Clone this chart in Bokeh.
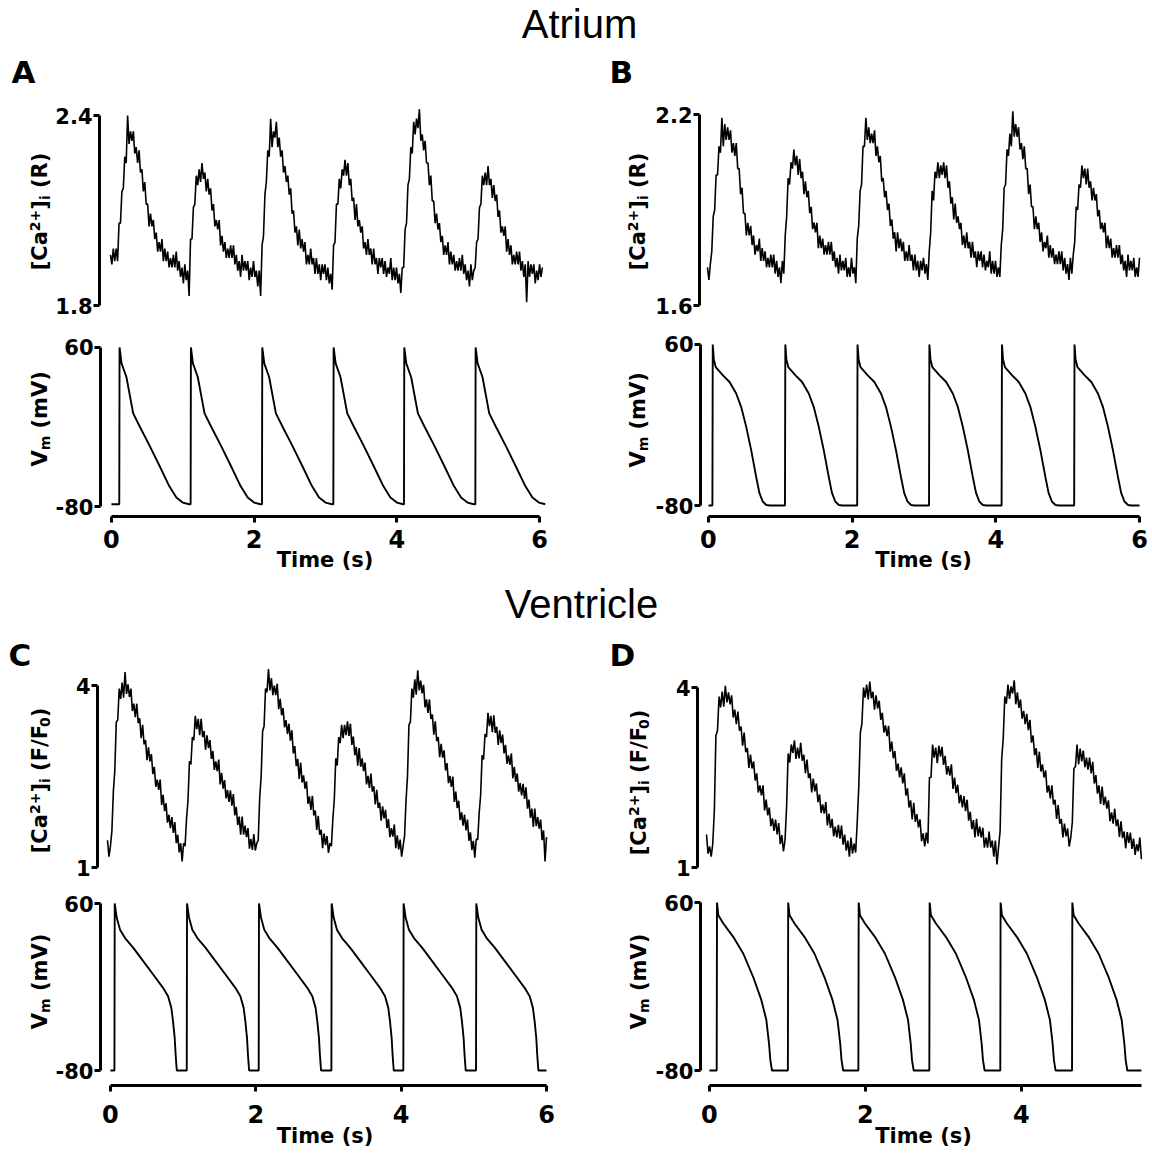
import numpy as np
from bokeh.plotting import figure
from bokeh.layouts import column, row
from bokeh.models import Range1d, FixedTicker, Label, LinearAxis
from bokeh.embed import file_html
from bokeh.resources import INLINE

# ---------------------------------------------------------------- data
CA_STEP = 0.02  # seconds between calcium samples

ca_A = [1.96, 1.93, 1.98, 1.94, 1.98, 1.94, 2.06, 2.06, 2.16, 2.17,
        2.27, 2.25, 2.40, 2.31, 2.35, 2.32, 2.35, 2.28, 2.30, 2.25,
        2.29, 2.22, 2.23, 2.16, 2.19, 2.12, 2.12, 2.05, 2.09, 2.05,
        2.07, 2.01, 2.03, 1.97, 2.00, 1.97, 2.01, 1.94, 1.98, 1.94,
        1.97, 1.92, 1.95, 1.92, 1.96, 1.92, 1.97, 1.91, 1.94, 1.89,
        1.92, 1.87, 1.93, 1.88, 1.91, 1.83, 2.01, 2.01, 2.11, 2.12,
        2.21, 2.18, 2.23, 2.19, 2.25, 2.20, 2.22, 2.16, 2.20, 2.15,
        2.17, 2.10, 2.12, 2.05, 2.07, 2.04, 2.07, 1.99, 2.02, 1.97,
        2.00, 1.95, 1.98, 1.95, 1.99, 1.95, 1.99, 1.93, 1.96, 1.91,
        1.94, 1.89, 1.96, 1.91, 1.94, 1.91, 1.94, 1.88, 1.92, 1.89,
        1.94, 1.89, 1.91, 1.86, 1.91, 1.83, 1.99, 2.02, 2.15, 2.19,
        2.29, 2.27, 2.39, 2.30, 2.35, 2.33, 2.38, 2.30, 2.33, 2.27,
        2.29, 2.22, 2.24, 2.19, 2.21, 2.15, 2.17, 2.09, 2.10, 2.03,
        2.05, 1.99, 2.04, 1.98, 2.01, 1.97, 2.00, 1.93, 1.96, 1.93,
        1.98, 1.93, 1.95, 1.90, 1.95, 1.90, 1.93, 1.88, 1.93, 1.90,
        1.93, 1.88, 1.92, 1.87, 1.90, 1.85, 1.99, 2.00, 2.12, 2.12,
        2.20, 2.17, 2.23, 2.21, 2.26, 2.21, 2.25, 2.18, 2.20, 2.13,
        2.14, 2.07, 2.12, 2.05, 2.07, 2.03, 2.05, 1.98, 2.00, 1.96,
        2.01, 1.96, 1.98, 1.93, 1.98, 1.93, 1.95, 1.90, 1.95, 1.92,
        1.95, 1.90, 1.94, 1.89, 1.92, 1.90, 1.95, 1.88, 1.92, 1.88,
        1.92, 1.87, 1.90, 1.84, 1.92, 1.92, 2.04, 2.06, 2.18, 2.20,
        2.30, 2.28, 2.38, 2.34, 2.39, 2.36, 2.42, 2.32, 2.34, 2.29,
        2.32, 2.25, 2.25, 2.18, 2.21, 2.13, 2.13, 2.06, 2.09, 2.04,
        2.06, 2.00, 2.02, 1.96, 1.99, 1.96, 2.00, 1.93, 1.97, 1.93,
        1.96, 1.91, 1.94, 1.91, 1.95, 1.91, 1.96, 1.90, 1.93, 1.88,
        1.91, 1.86, 1.93, 1.88, 1.91, 1.92, 2.00, 2.01, 2.11, 2.12,
        2.21, 2.18, 2.22, 2.18, 2.24, 2.18, 2.20, 2.14, 2.18, 2.13,
        2.15, 2.08, 2.10, 2.03, 2.05, 2.02, 2.05, 1.97, 2.01, 1.96,
        1.99, 1.93, 1.96, 1.93, 1.97, 1.93, 1.97, 1.91, 1.94, 1.89,
        1.93, 1.81, 1.94, 1.89, 1.93, 1.90, 1.93, 1.87, 1.91, 1.88,
        1.93, 1.89, 1.92]

ca_B = [1.72, 1.68, 1.73, 1.77, 1.88, 1.90, 2.01, 2.01, 2.10, 2.08,
        2.19, 2.10, 2.17, 2.12, 2.16, 2.12, 2.15, 2.08, 2.11, 2.07,
        2.11, 2.03, 2.03, 1.95, 1.97, 1.89, 1.89, 1.82, 1.86, 1.82,
        1.85, 1.79, 1.82, 1.76, 1.79, 1.77, 1.81, 1.74, 1.78, 1.74,
        1.77, 1.72, 1.75, 1.72, 1.76, 1.72, 1.76, 1.70, 1.74, 1.69,
        1.72, 1.67, 1.74, 1.70, 1.82, 1.88, 2.00, 1.98, 2.05, 2.03,
        2.09, 2.04, 2.07, 2.01, 2.06, 2.00, 2.02, 1.95, 1.99, 1.94,
        1.96, 1.89, 1.91, 1.84, 1.86, 1.83, 1.86, 1.78, 1.82, 1.78,
        1.81, 1.76, 1.79, 1.76, 1.80, 1.76, 1.80, 1.74, 1.77, 1.72,
        1.75, 1.70, 1.76, 1.71, 1.74, 1.71, 1.75, 1.69, 1.72, 1.69,
        1.75, 1.70, 1.72, 1.67, 1.81, 1.85, 1.96, 1.98, 2.10, 2.10,
        2.19, 2.12, 2.16, 2.11, 2.14, 2.11, 2.15, 2.07, 2.10, 2.05,
        2.07, 1.99, 2.00, 1.94, 1.96, 1.90, 1.92, 1.85, 1.87, 1.81,
        1.83, 1.77, 1.83, 1.78, 1.81, 1.77, 1.80, 1.74, 1.77, 1.74,
        1.79, 1.74, 1.76, 1.71, 1.76, 1.71, 1.74, 1.69, 1.74, 1.71,
        1.75, 1.70, 1.73, 1.68, 1.77, 1.83, 1.96, 1.93, 2.02, 2.00,
        2.05, 2.00, 2.04, 2.01, 2.05, 2.00, 2.04, 1.97, 1.99, 1.92,
        1.94, 1.87, 1.92, 1.86, 1.88, 1.84, 1.86, 1.79, 1.82, 1.78,
        1.83, 1.78, 1.80, 1.75, 1.80, 1.75, 1.77, 1.72, 1.77, 1.74,
        1.77, 1.72, 1.76, 1.71, 1.74, 1.72, 1.77, 1.70, 1.74, 1.70,
        1.74, 1.69, 1.72, 1.69, 1.79, 1.84, 1.97, 1.98, 2.09, 2.07,
        2.14, 2.10, 2.21, 2.13, 2.17, 2.13, 2.16, 2.09, 2.11, 2.06,
        2.10, 2.03, 2.03, 1.95, 1.98, 1.91, 1.91, 1.84, 1.88, 1.84,
        1.86, 1.80, 1.83, 1.77, 1.80, 1.78, 1.82, 1.75, 1.79, 1.75,
        1.78, 1.73, 1.76, 1.73, 1.77, 1.73, 1.77, 1.71, 1.75, 1.70,
        1.73, 1.68, 1.75, 1.70, 1.76, 1.80, 1.91, 1.90, 1.98, 1.97,
        2.04, 2.00, 2.03, 1.98, 2.03, 1.97, 1.99, 1.93, 1.97, 1.93,
        1.95, 1.88, 1.90, 1.84, 1.86, 1.83, 1.86, 1.78, 1.82, 1.78,
        1.81, 1.75, 1.78, 1.75, 1.79, 1.75, 1.79, 1.73, 1.76, 1.71,
        1.74, 1.69, 1.76, 1.71, 1.74, 1.71, 1.75, 1.69, 1.72, 1.69,
        1.75]

ca_C = [1.45, 1.18, 1.35, 1.60, 2.25, 2.60, 3.40, 3.43, 3.95, 3.78,
        4.05, 3.80, 4.22, 3.86, 4.02, 3.81, 3.95, 3.58, 3.70, 3.48,
        3.70, 3.38, 3.46, 3.13, 3.35, 3.03, 3.10, 2.77, 2.98, 2.75,
        2.87, 2.54, 2.66, 2.33, 2.45, 2.28, 2.45, 2.03, 2.20, 1.93,
        2.06, 1.74, 1.87, 1.65, 1.83, 1.57, 1.75, 1.40, 1.54, 1.25,
        1.40, 1.10, 1.40, 1.35, 1.80, 2.10, 2.75, 2.70, 3.15, 3.10,
        3.50, 3.28, 3.45, 3.18, 3.45, 3.15, 3.25, 2.94, 3.18, 2.97,
        3.10, 2.79, 2.92, 2.61, 2.75, 2.59, 2.78, 2.37, 2.56, 2.30,
        2.44, 2.14, 2.28, 2.08, 2.27, 2.02, 2.21, 1.86, 2.00, 1.70,
        1.84, 1.54, 1.84, 1.54, 1.69, 1.50, 1.65, 1.31, 1.47, 1.29,
        1.55, 1.28, 1.40, 1.45, 2.15, 2.50, 3.25, 3.33, 3.95, 3.89,
        4.27, 3.92, 4.12, 3.84, 4.00, 3.84, 4.03, 3.61, 3.78, 3.51,
        3.63, 3.31, 3.43, 3.20, 3.37, 3.09, 3.26, 2.88, 3.00, 2.67,
        2.79, 2.46, 2.73, 2.40, 2.52, 2.30, 2.42, 2.05, 2.17, 1.95,
        2.18, 1.86, 1.94, 1.62, 1.85, 1.54, 1.62, 1.32, 1.56, 1.37,
        1.52, 1.24, 1.40, 1.35, 1.80, 2.13, 2.80, 2.68, 3.15, 3.05,
        3.35, 3.13, 3.35, 3.18, 3.41, 3.17, 3.37, 3.02, 3.16, 2.85,
        2.99, 2.68, 2.97, 2.66, 2.80, 2.59, 2.73, 2.37, 2.51, 2.31,
        2.55, 2.25, 2.34, 2.04, 2.28, 1.98, 2.07, 1.77, 2.01, 1.81,
        1.95, 1.65, 1.80, 1.50, 1.65, 1.51, 1.71, 1.32, 1.53, 1.30,
        1.46, 1.18, 1.35, 1.52, 2.10, 2.50, 3.35, 3.40, 3.95, 3.80,
        4.10, 3.85, 4.25, 3.92, 4.08, 3.87, 4.01, 3.64, 3.77, 3.55,
        3.77, 3.45, 3.52, 3.19, 3.41, 3.08, 3.15, 2.82, 3.04, 2.81,
        2.93, 2.60, 2.72, 2.39, 2.51, 2.33, 2.50, 2.08, 2.25, 1.98,
        2.10, 1.78, 1.91, 1.69, 1.87, 1.61, 1.79, 1.44, 1.58, 1.29,
        1.44, 1.16, 1.47, 1.46, 1.90, 2.20, 2.85, 2.78, 3.20, 3.15,
        3.55, 3.33, 3.50, 3.23, 3.51, 3.22, 3.32, 3.02, 3.26, 3.05,
        3.19, 2.88, 3.02, 2.71, 2.85, 2.69, 2.88, 2.47, 2.66, 2.41,
        2.55, 2.25, 2.39, 2.19, 2.38, 2.13, 2.32, 1.97, 2.12, 1.82,
        1.97, 1.67, 1.97, 1.68, 1.83, 1.64, 1.79, 1.45, 1.61, 1.10,
        1.50]

ca_D = [1.55, 1.23, 1.35, 1.18, 1.40, 1.95, 3.20, 3.28, 3.85, 3.67,
        3.93, 3.68, 4.03, 3.75, 3.92, 3.72, 3.87, 3.50, 3.63, 3.39,
        3.60, 3.28, 3.35, 3.03, 3.25, 2.92, 2.99, 2.66, 2.88, 2.65,
        2.77, 2.45, 2.57, 2.25, 2.37, 2.20, 2.37, 1.95, 2.13, 1.87,
        2.00, 1.69, 1.82, 1.61, 1.80, 1.55, 1.74, 1.39, 1.54, 1.27,
        1.45, 2.00, 2.90, 2.75, 3.05, 2.91, 3.12, 2.81, 3.00, 2.82,
        3.08, 2.78, 2.88, 2.57, 2.80, 2.49, 2.57, 2.25, 2.48, 2.27,
        2.40, 2.09, 2.22, 1.91, 2.05, 1.90, 2.09, 1.70, 1.90, 1.66,
        1.81, 1.52, 1.68, 1.50, 1.71, 1.48, 1.70, 1.38, 1.55, 1.28,
        1.45, 1.18, 1.50, 1.23, 1.40, 1.25, 1.75, 2.35, 3.25, 3.40,
        4.00, 3.83, 4.05, 3.80, 4.10, 3.82, 3.93, 3.63, 3.87, 3.65,
        3.78, 3.46, 3.58, 3.25, 3.37, 3.19, 3.36, 2.93, 3.10, 2.82,
        2.94, 2.61, 2.73, 2.50, 2.67, 2.40, 2.57, 2.20, 2.32, 2.00,
        2.12, 1.80, 2.08, 1.76, 1.89, 1.67, 1.80, 1.44, 1.57, 1.35,
        1.58, 1.40, 2.50, 2.50, 3.05, 2.83, 3.00, 2.74, 3.03, 2.85,
        3.01, 2.71, 2.86, 2.55, 2.69, 2.53, 2.72, 2.31, 2.50, 2.24,
        2.38, 2.07, 2.21, 2.00, 2.19, 1.94, 2.13, 1.78, 1.93, 1.64,
        1.79, 1.50, 1.81, 1.52, 1.68, 1.50, 1.66, 1.33, 1.50, 1.33,
        1.60, 1.33, 1.45, 1.18, 1.45, 1.05, 1.33, 1.60, 2.80, 3.15,
        3.85, 3.73, 4.05, 3.81, 4.02, 3.90, 4.12, 3.72, 3.92, 3.66,
        3.80, 3.48, 3.61, 3.39, 3.56, 3.29, 3.46, 3.08, 3.20, 2.87,
        2.99, 2.66, 2.93, 2.60, 2.72, 2.50, 2.62, 2.25, 2.37, 2.15,
        2.37, 2.05, 2.13, 1.81, 2.04, 1.73, 1.81, 1.50, 1.73, 1.52,
        1.65, 1.35, 1.50, 1.75, 2.65, 2.68, 3.05, 2.72, 2.98, 2.77,
        2.95, 2.67, 2.83, 2.63, 2.83, 2.57, 2.76, 2.40, 2.54, 2.23,
        2.37, 2.06, 2.35, 2.04, 2.18, 1.98, 2.12, 1.77, 1.92, 1.73,
        1.98, 1.69, 1.80, 1.51, 1.77, 1.49, 1.60, 1.32, 1.59, 1.41,
        1.58, 1.31, 1.48, 1.21, 1.39, 1.27, 1.50, 1.14]

# membrane potential: upstroke times (s) and one action-potential shape
# (time after upstroke in s, mV)
vm_A_up = [0.11, 1.11, 2.11, 3.11, 4.10, 5.10]
vm_A_dt = [0.0, 0.004, 0.032, 0.10, 0.195, 0.29, 0.43, 0.57, 0.70, 0.80, 0.89, 0.98]
vm_A_mv = [-78, 60, 46, 34, 2, -10, -27, -45, -62, -72, -76.5, -78]
vm_A_rest, vm_A_end = -78, 6.08

vm_B_up = [0.055, 1.065, 2.07, 3.07, 4.08, 5.09]
vm_B_dt = [0.0, 0.005, 0.02, 0.046, 0.147, 0.239, 0.331, 0.40, 0.47, 0.539, 0.608, 0.654, 0.70, 0.75, 0.80]
vm_B_mv = [-80, 60, 47, 40.4, 33.2, 27.4, 17.4, 5.8, -11.4, -31.6, -54.7, -69, -76.5, -79.5, -80]
vm_B_rest, vm_B_end = -80, 6.0

vm_C_up = [0.055, 1.05, 2.04, 3.04, 4.03, 5.03]
vm_C_dt = [0.0, 0.004, 0.032, 0.077, 0.146, 0.26, 0.396, 0.533, 0.669, 0.738, 0.783, 0.806, 0.829, 0.842, 0.858]
vm_C_mv = [-80, 60, 48, 38, 31, 22.8, 11.7, 0.5, -10.7, -17.7, -27.5, -38.6, -52.6, -66.6, -80]
vm_C_rest, vm_C_end = -80, 6.0

vm_D_up = [0.093, 1.006, 1.91, 2.82, 3.73, 4.65]
vm_D_dt = [0.0, 0.004, 0.021, 0.085, 0.212, 0.34, 0.467, 0.573, 0.637, 0.671, 0.688, 0.709]
vm_D_mv = [-80, 60, 49.4, 42.5, 31.4, 17.5, -1.9, -21.4, -38, -57.5, -71.4, -80]
vm_D_rest, vm_D_end = -80, 5.54

time_ticks_ABC = [0, 2, 4, 6]
time_ticks_D = [0, 2, 4]
time_bounds = {"A": (0, 6), "B": (0, 6), "C": (0, 6), "D": (0, 5.54)}
ca_ticks = {"A": (1.8, 2.4), "B": (1.6, 2.2), "C": (1, 4), "D": (1, 4)}
vm_ticks = (-80, 60)


def build_vm(up, dt, mv, rest, end):
    xs, ys = [0.0], [rest]
    for u in up:
        for d, v in zip(dt, mv):
            xs.append(u + d)
            ys.append(v)
    if xs[-1] < end:
        xs.append(end)
        ys.append(rest)
    return xs, ys


# ---------------------------------------------------------------- layout
# page-pixel calibration of each panel: (value, page pixel)
CAL = {
    "A": dict(x=((0, 108), (6, 539)), ca=((2.4, 115), (1.8, 305)), vm=((60, 347), (-80, 507))),
    "B": dict(x=((0, 705), (6, 1139)), ca=((2.2, 114), (1.6, 305)), vm=((60, 344), (-80, 506))),
    "C": dict(x=((0, 107), (6, 546)), ca=((4, 685), (1, 867)), vm=((60, 903), (-80, 1070))),
    "D": dict(x=((0, 706), (4, 1020)), ca=((4, 687), (1, 867)), vm=((60, 902), (-80, 1070))),
}
PLOTCOL = {"left": dict(x0=52, W=524, L=45, R=27), "right": dict(x0=652, W=498, L=45, R=4)}
TEXTCOL = {"left": dict(x0=0, W=52), "right": dict(x0=576, W=76)}
# every figure of a row shares the same top/bottom borders (frames line up)
ROWS = {
    "ca1": dict(y0=48, H=270, T=4, B=8),
    "vm1": dict(y0=318, H=256, T=20, B=57),
    "ca2": dict(y0=630, H=250, T=4, B=8),
    "vm2": dict(y0=880, H=272, T=16, B=67),
}

# advance widths (em) of DejaVu Sans Bold, used to chain label pieces
DV_BOLD = {'[': 0.457, 'C': 0.734, 'a': 0.675, '2': 0.696, '+': 0.838, ']': 0.457,
           'i': 0.343, ' ': 0.348, '(': 0.457, 'R': 0.770, ')': 0.457, 'V': 0.774,
           'm': 1.042, 'F': 0.632, '/': 0.365, '0': 0.696}


def plain_fig(W, H):
    p = figure(width=W, height=H, min_border=0, toolbar_location=None,
               output_backend="svg", tools="", x_axis_location=None, y_axis_location=None)
    p.outline_line_color = None
    p.grid.visible = False
    p.background_fill_color = "white"
    p.border_fill_color = "white"
    return p


def make_plot(col, rw, xcal, ycal):
    c, r = PLOTCOL[col], ROWS[rw]
    fl, fr = c["x0"] + c["L"], c["x0"] + c["W"] - c["R"]
    ft, fb = r["y0"] + r["T"], r["y0"] + r["H"] - r["B"]
    (va, pa), (vb, pb) = xcal
    kx = (vb - va) / (pb - pa)
    (wa, qa), (wb, qb) = ycal
    ky = (wb - wa) / (qb - qa)
    p = plain_fig(c["W"], r["H"])
    p.x_range = Range1d(va + kx * (fl - pa), va + kx * (fr - pa))
    p.y_range = Range1d(wa + ky * (fb - qa), wa + ky * (ft - qa))
    p.min_border_left, p.min_border_right = c["L"], c["R"]
    p.min_border_top, p.min_border_bottom = r["T"], r["B"]
    return p


def make_textfig(col, rw):
    c, r = TEXTCOL[col], ROWS[rw]
    p = plain_fig(c["W"], r["H"])
    p.min_border_top, p.min_border_bottom = r["T"], r["B"]
    p.x_range = Range1d(c["x0"], c["x0"] + c["W"])
    # frame in page pixels, y downwards
    p.y_range = Range1d(r["y0"] + r["H"] - r["B"], r["y0"] + r["T"])
    return p


def style_axis(ax, standoff, size):
    ax.axis_line_width = 3
    ax.axis_line_color = "black"
    ax.major_tick_line_width = 3
    ax.major_tick_line_color = "black"
    ax.major_tick_out = 6
    ax.major_tick_in = 0
    ax.minor_tick_line_color = None
    ax.major_label_text_font = "DejaVu Sans"
    ax.major_label_text_font_style = "bold"
    ax.major_label_text_font_size = f"{size}px"
    ax.major_label_text_color = "black"
    ax.major_label_standoff = standoff


def add_text(p, x, y, text, size, font="DejaVu Sans", style="bold",
             align="left", baseline="middle", angle=0.0):
    p.add_layout(Label(x=x, y=y, text=text, text_font=font,
                       text_font_style=style, text_font_size=f"{size}px",
                       text_align=align, text_baseline=baseline, angle=angle,
                       text_color="black"))


def vlabel(p, pieces, mid_x, center_y, size=21, small=14):
    def width(text, kind):
        s = small if kind in ("sup", "sub") else size
        return sum(DV_BOLD[ch] for ch in text) * s, s
    total = sum(width(t, k)[0] for t, k in pieces)
    y = center_y + total / 2
    for text, kind in pieces:
        w, s = width(text, kind)
        if kind != "gap":
            dx = -5 if kind == "sup" else (5 if kind == "sub" else 0)
            add_text(p, mid_x + dx, y, text, s, angle=np.pi / 2)
        y -= w


CA_R = [("[Ca", "n"), ("2+", "sup"), ("]", "n"), ("i", "sub"), (" ", "gap"), ("(R)", "n")]
CA_F = [("[Ca", "n"), ("2+", "sup"), ("]", "n"), ("i", "sub"), (" ", "gap"), ("(F/F", "n"),
        ("0", "sub"), (")", "n")]
VM = [("V", "n"), ("m", "sub"), (" ", "gap"), ("(mV)", "n")]

PANELS = {
    "A": dict(col="left", ca_row="ca1", vm_row="vm1", ca=ca_A, vm=(vm_A_up, vm_A_dt, vm_A_mv, vm_A_rest, vm_A_end),
              ca_label=CA_R, lab_x=39, ca_cy=211, vm_cy=419, letter=(11, 71),
              ticks=time_ticks_ABC, xstand=7, lstand=-3),
    "B": dict(col="right", ca_row="ca1", vm_row="vm1", ca=ca_B, vm=(vm_B_up, vm_B_dt, vm_B_mv, vm_B_rest, vm_B_end),
              ca_label=CA_R, lab_x=637, ca_cy=211, vm_cy=420, letter=(609, 71),
              ticks=time_ticks_ABC, xstand=7, lstand=-3),
    "C": dict(col="left", ca_row="ca2", vm_row="vm2", ca=ca_C, vm=(vm_C_up, vm_C_dt, vm_C_mv, vm_C_rest, vm_C_end),
              ca_label=CA_F, lab_x=39, ca_cy=780, vm_cy=981, letter=(8, 654),
              ticks=time_ticks_ABC, xstand=13, lstand=-2),
    "D": dict(col="right", ca_row="ca2", vm_row="vm2", ca=ca_D, vm=(vm_D_up, vm_D_dt, vm_D_mv, vm_D_rest, vm_D_end),
              ca_label=CA_F, lab_x=638, ca_cy=782, vm_cy=981, letter=(609, 654),
              ticks=time_ticks_D, xstand=13, lstand=-2),
}

figs = {}
for key, P in PANELS.items():
    cal = CAL[key]
    # calcium trace
    pc = make_plot(P["col"], P["ca_row"], cal["x"], cal["ca"])
    t = np.arange(len(P["ca"])) * CA_STEP
    pc.line(t, P["ca"], line_color="black", line_width=1.6)
    lo, hi = ca_ticks[key]
    ay = LinearAxis(ticker=FixedTicker(ticks=[lo, hi]), bounds=(lo, hi))
    style_axis(ay, 1, 21)
    pc.add_layout(ay, "left")
    tc = make_textfig(P["col"], P["ca_row"])
    vlabel(tc, P["ca_label"], P["lab_x"], P["ca_cy"])
    add_text(tc, P["letter"][0], P["letter"][1], key, 31)

    # membrane potential trace
    pv = make_plot(P["col"], P["vm_row"], cal["x"], cal["vm"])
    xs, ys = build_vm(*P["vm"])
    pv.line(xs, ys, line_color="black", line_width=1.9)
    ay2 = LinearAxis(ticker=FixedTicker(ticks=list(vm_ticks)), bounds=vm_ticks)
    style_axis(ay2, 1, 21)
    ay2.major_label_overrides = {-80: "-80", 60: "60"}
    pv.add_layout(ay2, "left")
    ax = LinearAxis(ticker=FixedTicker(ticks=P["ticks"]), bounds=time_bounds[key])
    style_axis(ax, P["xstand"], 24)
    ax.axis_label = "Time (s)"
    ax.axis_label_text_font = "DejaVu Sans"
    ax.axis_label_text_font_style = "bold"
    ax.axis_label_text_font_size = "21px"
    ax.axis_label_text_color = "black"
    ax.axis_label_standoff = P["lstand"]
    pv.add_layout(ax, "below")
    tv = make_textfig(P["col"], P["vm_row"])
    vlabel(tv, VM, P["lab_x"], P["vm_cy"])
    figs[key] = (tc, pc, tv, pv)


def title_fig(y0, H, text, cx, cy):
    p = plain_fig(1150, H)
    p.x_range = Range1d(0, 1150)
    p.y_range = Range1d(y0 + H, y0)
    add_text(p, cx, cy, text, 40, font="Liberation Sans", style="normal", align="center")
    return p


t1 = title_fig(0, 48, "Atrium", 579, 23)
t2 = title_fig(574, 56, "Ventricle", 581, 603)

layout = column(
    t1,
    row(figs["A"][0], figs["A"][1], figs["B"][0], figs["B"][1]),
    row(figs["A"][2], figs["A"][3], figs["B"][2], figs["B"][3]),
    t2,
    row(figs["C"][0], figs["C"][1], figs["D"][0], figs["D"][1]),
    row(figs["C"][2], figs["C"][3], figs["D"][2], figs["D"][3]),
)

open("out.html", "w").write(file_html(layout, INLINE))
